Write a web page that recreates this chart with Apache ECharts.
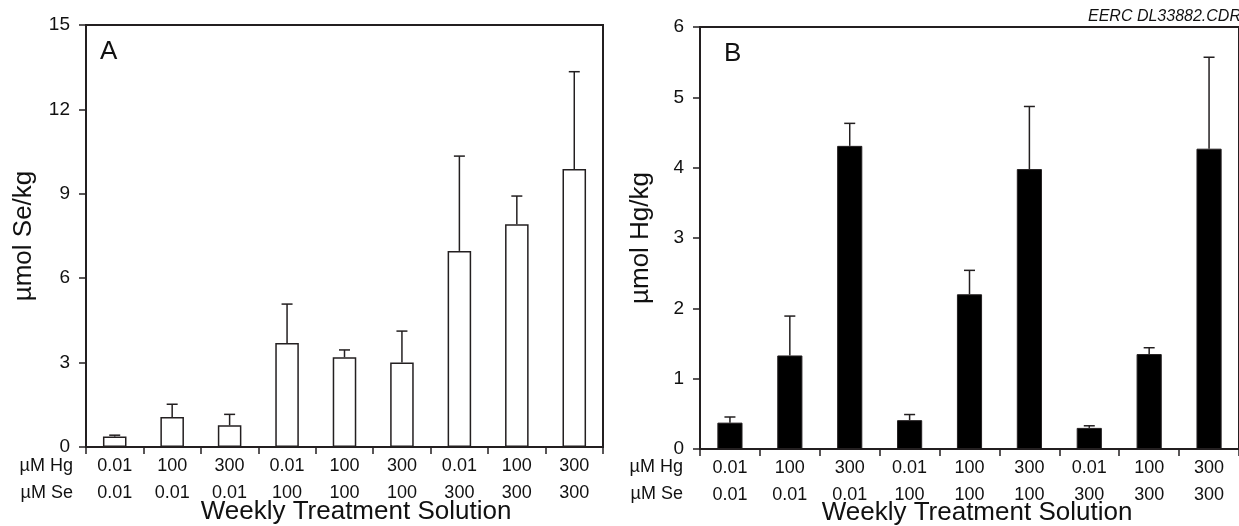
<!DOCTYPE html>
<html>
<head>
    <meta charset="utf-8">
    <title>Weekly Treatment Solution</title>
    <script src="https://cdn.jsdelivr.net/npm/echarts@6.0.0/dist/echarts.min.js"></script>
    <style type="text/css">
        html, body { margin: 0; padding: 0; background: #fff; }
        #chart { width: 1239px; height: 526px; }
    </style>
</head>
<body>
    <div id="chart"></div>
    <script>
        // treatment levels (µM)
        var hgLevels = ['0.01', '100', '300', '0.01', '100', '300', '0.01', '100', '300'];
        var seLevels = ['0.01', '0.01', '0.01', '100', '100', '100', '300', '300', '300'];

        // panel A: µmol Se/kg, mean and upper error
        var seMean = [0.37, 1.07, 0.77, 3.70, 3.19, 3.00, 6.97, 7.92, 9.88];
        var seErr = [0.05, 0.45, 0.39, 1.38, 0.26, 1.12, 3.37, 1.00, 3.46];
        var seTicks = [0, 3, 6, 9, 12, 15];

        // panel B: µmol Hg/kg, mean and upper error
        var hgMean = [0.375, 1.33, 4.31, 0.41, 2.20, 3.98, 0.30, 1.35, 4.27];
        var hgErr = [0.08, 0.56, 0.32, 0.08, 0.34, 0.89, 0.03, 0.09, 1.30];
        var hgTicks = [0, 1, 2, 3, 4, 5, 6];

        var ink = '#231f20';
        var font = "'Liberation Sans', Arial, sans-serif";

        var cats = hgLevels.map(function (h, i) { return h + '\n' + seLevels[i]; });

        function errData(mean, err) {
            return mean.map(function (m, i) { return [i, m, m + err[i]]; });
        }

        function renderErr(params, api) {
            var top = api.coord([api.value(0), api.value(2)]);
            var base = api.coord([api.value(0), api.value(1)]);
            var half = 5.5;
            return {
                type: 'group',
                children: [
                    { type: 'line', shape: { x1: base[0], y1: base[1], x2: top[0], y2: top[1] },
                      style: { stroke: ink, lineWidth: 1.5 } },
                    { type: 'line', shape: { x1: top[0] - half, y1: top[1], x2: top[0] + half, y2: top[1] },
                      style: { stroke: ink, lineWidth: 1.5 } }
                ]
            };
        }

        function xAxisFor(idx) {
            return {
                type: 'category', gridIndex: idx, data: cats,
                axisLine: { lineStyle: { color: ink, width: 2 } },
                axisTick: { show: true, interval: 0, length: 7, lineStyle: { color: ink, width: 1.5 } },
                axisLabel: { interval: 0, margin: 6, color: '#111', fontSize: 18, lineHeight: 27, fontFamily: font },
                splitLine: { show: false }
            };
        }

        function yAxisFor(idx, ticks) {
            return {
                type: 'value', gridIndex: idx,
                min: ticks[0], max: ticks[ticks.length - 1], interval: ticks[1] - ticks[0],
                axisLine: { show: true, lineStyle: { color: ink, width: 2 } },
                axisTick: { show: true, length: 7, lineStyle: { color: ink, width: 1.5 } },
                axisLabel: { margin: 16, color: '#111', fontSize: 19, fontFamily: font },
                splitLine: { show: false }
            };
        }

        function txt(x, y, s, size, opts) {
            opts = opts || {};
            return {
                type: 'text', x: x, y: y, rotation: opts.rotation || 0,
                style: {
                    text: s, fill: '#111',
                    font: (opts.italic ? 'italic ' : '') + size + 'px ' + font,
                    textAlign: opts.align || 'left',
                    textVerticalAlign: opts.valign || 'middle'
                }
            };
        }

        var chart = echarts.init(document.getElementById('chart'));
        chart.setOption({
            animation: false,
            grid: [
                { left: 86, top: 25, width: 517, height: 422, show: true, borderColor: ink, borderWidth: 2 },
                { left: 700, top: 27, width: 541, height: 422, show: true, borderColor: ink, borderWidth: 2 }
            ],
            xAxis: [xAxisFor(0), xAxisFor(1)],
            yAxis: [yAxisFor(0, seTicks), yAxisFor(1, hgTicks)],
            series: [
                {
                    type: 'bar', xAxisIndex: 0, yAxisIndex: 0, data: seMean, barWidth: '41%',
                    itemStyle: { color: '#fff', borderColor: ink, borderWidth: 1.5 }
                },
                {
                    type: 'custom', xAxisIndex: 0, yAxisIndex: 0, data: errData(seMean, seErr),
                    renderItem: renderErr, z: 3
                },
                {
                    type: 'bar', xAxisIndex: 1, yAxisIndex: 1, data: hgMean, barWidth: '42%',
                    itemStyle: { color: '#000', borderColor: ink, borderWidth: 1 }
                },
                {
                    type: 'custom', xAxisIndex: 1, yAxisIndex: 1, data: errData(hgMean, hgErr),
                    renderItem: renderErr, z: 3
                }
            ],
            graphic: [
                txt(100, 52, 'A', 26),
                txt(724, 54, 'B', 26),
                txt(24, 236, 'µmol Se/kg', 26, { align: 'center', rotation: Math.PI / 2 }),
                txt(641, 238, 'µmol Hg/kg', 26, { align: 'center', rotation: Math.PI / 2 }),
                txt(73, 466, 'µM Hg', 18, { align: 'right' }),
                txt(73, 493, 'µM Se', 18, { align: 'right' }),
                txt(683, 467, 'µM Hg', 18, { align: 'right' }),
                txt(683, 494, 'µM Se', 18, { align: 'right' }),
                txt(356, 512, 'Weekly Treatment Solution', 26, { align: 'center' }),
                txt(977, 513, 'Weekly Treatment Solution', 26, { align: 'center' }),
                txt(1088, 25, 'EERC DL33882.CDR', 16, { italic: true, valign: 'bottom' })
            ]
        });
    </script>
</body>
</html>
